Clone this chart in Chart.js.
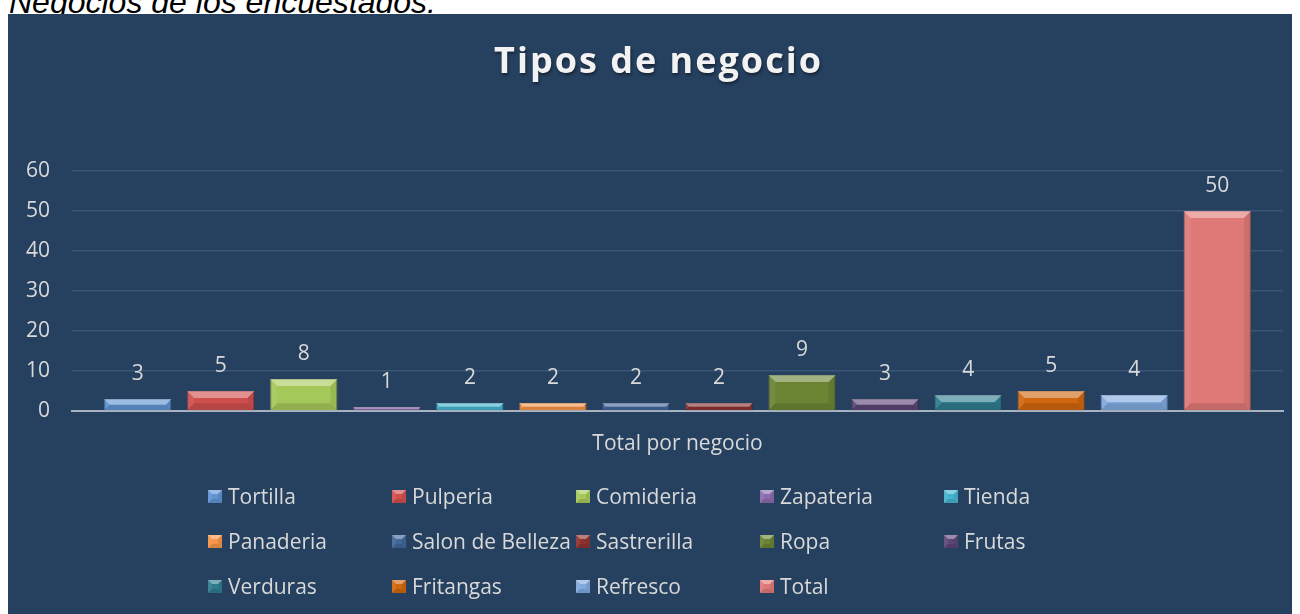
<!DOCTYPE html>
<html>
<head>
<meta charset="utf-8">
<script src="https://cdn.jsdelivr.net/npm/chart.js@4.4.0/dist/chart.umd.min.js"></script>
<style>
  body { margin: 0; background: #ffffff; width: 1300px; height: 614px; overflow: hidden; position: relative; }
  #cabecera { position: absolute; left: 9px; top: -14px; font-family: "Liberation Sans", Arial, sans-serif; font-style: italic; font-size: 32px; line-height: 32px; color: #000; white-space: nowrap; }
  #caja { position: absolute; left: 8px; top: 14px; width: 1284px; height: 600px; background: #26405f; }
</style>
</head>
<body>
<div id="cabecera">Negocios de los encuestados.</div>
<div id="caja"><canvas id="mycanvas" width="1284" height="600"></canvas></div>
<script>
var categorias = ['Total por negocio'];
var negocios = ['Tortilla', 'Pulperia', 'Comideria', 'Zapateria', 'Tienda',
                'Panaderia', 'Salon de Belleza', 'Sastrerilla', 'Ropa', 'Frutas',
                'Verduras', 'Fritangas', 'Refresco', 'Total'];
var valores = [3, 5, 8, 1, 2, 2, 2, 2, 9, 3, 4, 5, 4, 50];
var colores = ['#5f93d2', '#cf4f4d', '#a5c85a', '#8a6cae', '#45b3cf',
               '#f59347', '#41669a', '#8c3331', '#6a8434', '#5c4676',
               '#2f7c8e', '#cf670f', '#80a9dd', '#df7977'];
var bordes = ['#3e6da8', '#9c3432', '#7b9540', '#614a82', '#2e8aa2',
              '#c46f2c', '#2b4870', '#5e1f1e', '#4a5d22', '#3c2c50',
              '#1c5766', '#9a4a08', '#5a80b2', '#b05755'];
var ticksY = [0, 10, 20, 30, 40, 50, 60];

var texto = '#d9d9d9';
var fuente = '"Open Sans", "Noto Sans", sans-serif';

function bisel(ctx, left, top, right, bottom, b) {
  ctx.fillStyle = 'rgba(255,255,255,0.38)';
  ctx.beginPath();
  ctx.moveTo(left, top); ctx.lineTo(right, top); ctx.lineTo(right - b, top + b); ctx.lineTo(left + b, top + b);
  ctx.closePath(); ctx.fill();
  ctx.fillStyle = 'rgba(255,255,255,0.07)';
  ctx.beginPath();
  ctx.moveTo(left, top); ctx.lineTo(left + b, top + b); ctx.lineTo(left + b, bottom - b); ctx.lineTo(left, bottom);
  ctx.closePath(); ctx.fill();
  ctx.fillStyle = 'rgba(0,0,0,0.08)';
  ctx.beginPath();
  ctx.moveTo(right, top); ctx.lineTo(right - b, top + b); ctx.lineTo(right - b, bottom - b); ctx.lineTo(right, bottom);
  ctx.closePath(); ctx.fill();
  ctx.fillStyle = 'rgba(0,0,0,0.12)';
  ctx.beginPath();
  ctx.moveTo(left, bottom); ctx.lineTo(left + b, bottom - b); ctx.lineTo(right - b, bottom - b); ctx.lineTo(right, bottom);
  ctx.closePath(); ctx.fill();
}

// bevel + value labels on top of every bar
var barrasPlugin = {
  id: 'barras',
  afterDatasetsDraw: function(chart) {
    var ctx = chart.ctx;
    chart.data.datasets.forEach(function(ds, i) {
      var meta = chart.getDatasetMeta(i);
      meta.data.forEach(function(bar, j) {
        var p = bar.getProps(['x', 'y', 'base', 'width'], true);
        var left = p.x - p.width / 2, right = p.x + p.width / 2;
        var b = Math.min(7, (p.base - p.y) / 2);
        ctx.save();
        bisel(ctx, left, p.y, right, p.base, b);
        ctx.fillStyle = texto;
        ctx.font = '21px ' + fuente;
        ctx.textAlign = 'center';
        ctx.textBaseline = 'middle';
        ctx.fillText(ds.data[j], p.x, p.y - 25);
        ctx.restore();
      });
    });
  }
};

// legend in fixed columns, 5 per row
var leyendaPlugin = {
  id: 'leyenda',
  afterDraw: function(chart) {
    var ctx = chart.ctx;
    ctx.save();
    ctx.font = '21px ' + fuente;
    ctx.textBaseline = 'middle';
    ctx.textAlign = 'left';
    chart.data.datasets.forEach(function(ds, i) {
      var x = 200 + (i % 5) * 184;
      var y = 483 + Math.floor(i / 5) * 45;
      ctx.fillStyle = ds.backgroundColor;
      ctx.fillRect(x, y - 7, 14, 13);
      bisel(ctx, x, y - 7, x + 14, y + 6, 4);
      ctx.fillStyle = texto;
      ctx.fillText(ds.label, x + 20, y + 1);
    });
    ctx.restore();
  }
};

// letter spacing + shadow for the title
var tituloPlugin = {
  id: 'tituloEspaciado',
  beforeDraw: function(chart) {
    var tb = chart.titleBlock;
    if (tb && !tb._espaciado) {
      var orig = tb.draw;
      tb.draw = function() {
        var c = chart.ctx;
        c.save();
        c.translate(13, 0);
        c.letterSpacing = '2px';
        c.shadowColor = 'rgba(0,0,0,0.45)';
        c.shadowBlur = 3;
        c.shadowOffsetX = 1;
        c.shadowOffsetY = 2;
        orig.apply(tb, arguments);
        c.restore();
      };
      tb._espaciado = true;
    }
  }
};

var datasets = [];
for (var i in negocios) {
  datasets.push({
    label: negocios[i],
    data: [valores[i]],
    backgroundColor: colores[i],
    borderColor: bordes[i],
    borderWidth: 1,
    categoryPercentage: 0.96,
    barPercentage: 0.81
  });
}

var ctx = document.getElementById('mycanvas');
var barGraph = new Chart(ctx, {
  type: 'bar',
  data: { labels: categorias, datasets: datasets },
  plugins: [tituloPlugin, barrasPlugin, leyendaPlugin],
  options: {
    responsive: false,
    animation: false,
    layout: { padding: { top: 0, right: 9, bottom: 143, left: 0 } },
    plugins: {
      legend: { display: false },
      tooltip: { enabled: false },
      title: {
        display: true,
        text: 'Tipos de negocio',
        color: '#f2f2f2',
        font: { family: fuente, size: 36, weight: 'bold', lineHeight: 1.2 },
        padding: { top: 27, bottom: 86.8 }
      }
    },
    scales: {
      x: {
        grid: { display: false, drawTicks: false },
        border: { display: true, color: '#a8b3c2', width: 2 },
        ticks: { color: texto, font: { family: fuente, size: 21 }, padding: 20 },
        afterFit: function(scale) { scale.height = 60; }
      },
      y: {
        min: ticksY[0],
        max: ticksY[ticksY.length - 1],
        ticks: { stepSize: ticksY[1] - ticksY[0], color: texto, font: { family: fuente, size: 21 }, padding: 22 },
        grid: { color: '#3b5576', lineWidth: 1.5, drawTicks: false },
        border: { display: false },
        afterFit: function(scale) { scale.width = 64; }
      }
    }
  }
});
</script>
</body>
</html>
